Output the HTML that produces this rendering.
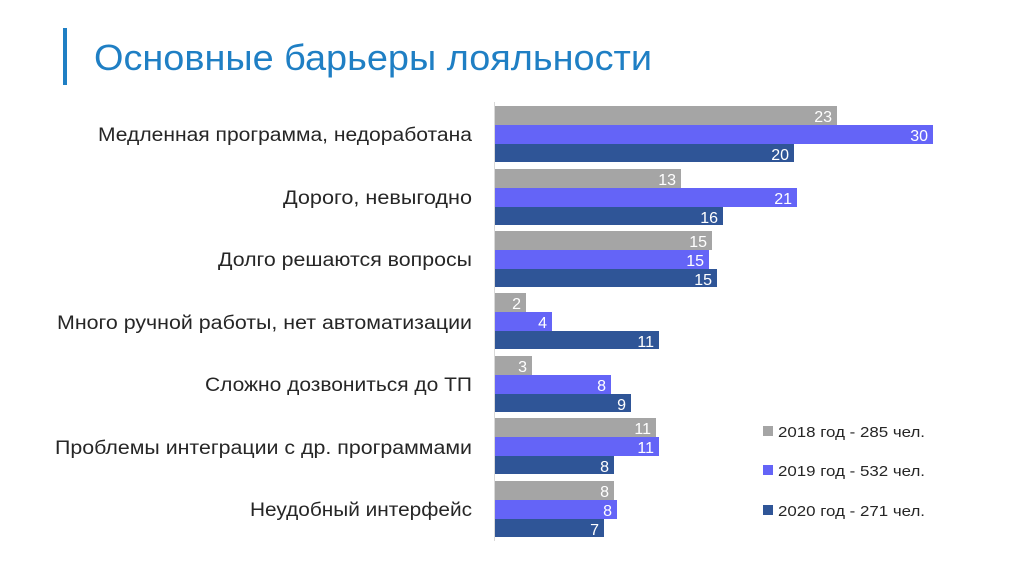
<!DOCTYPE html>
<html><head><meta charset="utf-8"><style>
html,body{margin:0;padding:0;background:#fff;}
svg{display:block;}
text{font-family:"Liberation Sans","DejaVu Sans",sans-serif;}
</style></head><body>
<svg width="1024" height="574" viewBox="0 0 1024 574" xmlns="http://www.w3.org/2000/svg">
<rect width="1024" height="574" fill="#fff"/>
<rect x="63" y="28" width="4" height="57" fill="#1f7fc4"/>
<text x="94" y="70" font-size="36" fill="#1f7fc4" textLength="558" lengthAdjust="spacingAndGlyphs">Основные барьеры лояльности</text>
<line x1="494.5" y1="102" x2="494.5" y2="541" stroke="#d9d9d9" stroke-width="1"/>
<g font-size="19" fill="#262626" text-anchor="end">
<text x="472" y="141" textLength="374" lengthAdjust="spacingAndGlyphs">Медленная программа, недоработана</text>
<text x="472" y="204" textLength="189" lengthAdjust="spacingAndGlyphs">Дорого, невыгодно</text>
<text x="472" y="266" textLength="254" lengthAdjust="spacingAndGlyphs">Долго решаются вопросы</text>
<text x="472" y="329" textLength="415" lengthAdjust="spacingAndGlyphs">Много ручной работы, нет автоматизации</text>
<text x="472" y="391" textLength="267" lengthAdjust="spacingAndGlyphs">Сложно дозвониться до ТП</text>
<text x="472" y="454" textLength="417" lengthAdjust="spacingAndGlyphs">Проблемы интеграции с др. программами</text>
<text x="472" y="516" textLength="222" lengthAdjust="spacingAndGlyphs">Неудобный интерфейс</text>
</g>
<g>
<rect x="495" y="106" width="342" height="19" fill="#a5a5a5"/>
<rect x="495" y="125" width="438" height="19" fill="#6464f7"/>
<rect x="495" y="144" width="299" height="18" fill="#2f5597"/>
<rect x="495" y="169" width="186" height="19" fill="#a5a5a5"/>
<rect x="495" y="188" width="302" height="19" fill="#6464f7"/>
<rect x="495" y="207" width="228" height="18" fill="#2f5597"/>
<rect x="495" y="231" width="217" height="19" fill="#a5a5a5"/>
<rect x="495" y="250" width="214" height="19" fill="#6464f7"/>
<rect x="495" y="269" width="222" height="18" fill="#2f5597"/>
<rect x="495" y="293" width="31" height="19" fill="#a5a5a5"/>
<rect x="495" y="312" width="57" height="19" fill="#6464f7"/>
<rect x="495" y="331" width="164" height="18" fill="#2f5597"/>
<rect x="495" y="356" width="37" height="19" fill="#a5a5a5"/>
<rect x="495" y="375" width="116" height="19" fill="#6464f7"/>
<rect x="495" y="394" width="136" height="18" fill="#2f5597"/>
<rect x="495" y="418" width="161" height="19" fill="#a5a5a5"/>
<rect x="495" y="437" width="164" height="19" fill="#6464f7"/>
<rect x="495" y="456" width="119" height="18" fill="#2f5597"/>
<rect x="495" y="481" width="119" height="19" fill="#a5a5a5"/>
<rect x="495" y="500" width="122" height="19" fill="#6464f7"/>
<rect x="495" y="519" width="109" height="18" fill="#2f5597"/>
</g>
<g font-size="16" fill="#fff" text-anchor="end">
<text x="832" y="122">23</text><text x="928" y="141">30</text><text x="789" y="160">20</text>
<text x="676" y="185">13</text><text x="792" y="204">21</text><text x="718" y="223">16</text>
<text x="707" y="247">15</text><text x="704" y="266">15</text><text x="712" y="285">15</text>
<text x="521" y="309">2</text><text x="547" y="328">4</text><text x="654" y="347">11</text>
<text x="527" y="372">3</text><text x="606" y="391">8</text><text x="626" y="410">9</text>
<text x="651" y="434">11</text><text x="654" y="453">11</text><text x="609" y="472">8</text>
<text x="609" y="497">8</text><text x="612" y="516">8</text><text x="599" y="535">7</text>
</g>
<g font-size="15" fill="#262626">
<rect x="763" y="426" width="10" height="10" fill="#a5a5a5"/>
<text x="778" y="437" textLength="147" lengthAdjust="spacingAndGlyphs">2018 год - 285 чел.</text>
<rect x="763" y="465" width="10" height="10" fill="#6464f7"/>
<text x="778" y="476" textLength="147" lengthAdjust="spacingAndGlyphs">2019 год - 532 чел.</text>
<rect x="763" y="505" width="10" height="10" fill="#2f5597"/>
<text x="778" y="516" textLength="147" lengthAdjust="spacingAndGlyphs">2020 год - 271 чел.</text>
</g>
</svg>
</body></html>
